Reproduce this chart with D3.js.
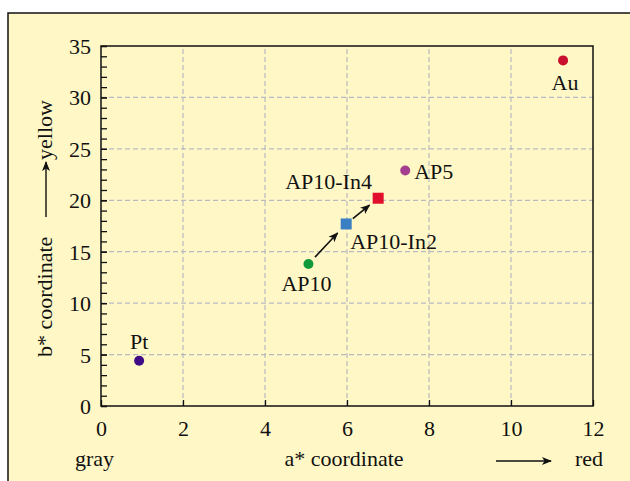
<!DOCTYPE html>
<html>
<head>
<meta charset="utf-8">
<title>a* b* coordinates</title>
<script src="https://cdn.jsdelivr.net/npm/d3@7"></script>
<style>
  body { margin: 0; background: #fff; }
  svg text { font-family: "Liberation Serif", "Times New Roman", serif; fill: #111; }
</style>
</head>
<body>
<div id="chart"></div>
<script>
// sample names, a* and b* values, colours and marker shapes
var names  = ["Pt", "AP10", "AP10-In2", "AP10-In4", "AP5", "Au"];
var aStar  = [0.93, 5.06, 5.98, 6.76, 7.42, 11.27];
var bStar  = [4.4, 13.8, 17.7, 20.2, 22.9, 33.6];
var colors = ["#3d0c86", "#0f9a3c", "#3a7ec4", "#e0102c", "#a43e8e", "#c8102e"];
var shapes = ["circle", "circle", "square", "square", "circle", "circle"];
var xTicks = [0, 2, 4, 6, 8, 10, 12];
var yTicks = [0, 5, 10, 15, 20, 25, 30, 35];
var yMinor = d3.range(0, 36, 1);
// arrows: from index -> to index
var arrows = [[1, 2], [2, 3]];

var W = 630, H = 481;
var svg = d3.select("#chart").append("svg").attr("width", W).attr("height", H);

// panel background + border
svg.append("rect").attr("x", 8).attr("y", 13).attr("width", 640).attr("height", 500)
   .attr("fill", "#fff8c6").attr("stroke", "#111").attr("stroke-width", 1.5);

var x = d3.scaleLinear().domain([0, 12]).range([101, 593]);
var y = d3.scaleLinear().domain([0, 35]).range([406, 46]);

var defs = svg.append("defs");
defs.append("marker").attr("id", "head").attr("viewBox", "0 0 10 10")
    .attr("refX", 9).attr("refY", 5).attr("markerWidth", 10).attr("markerHeight", 10)
    .attr("markerUnits", "userSpaceOnUse").attr("orient", "auto")
  .append("path").attr("d", "M0,1 L10,5 L0,9 L2.5,5 Z").attr("fill", "#111");

// grid
var grid = svg.append("g").attr("stroke", "#b9b9c2").attr("stroke-width", 1.2).attr("stroke-dasharray", "5,3");
grid.selectAll("line.v").data(xTicks.slice(1, -1)).enter().append("line")
    .attr("x1", d => x(d)).attr("x2", d => x(d)).attr("y1", y(0)).attr("y2", y(35));
grid.selectAll("line.h").data(yTicks.slice(1, -1)).enter().append("line")
    .attr("y1", d => y(d)).attr("y2", d => y(d)).attr("x1", x(0)).attr("x2", x(12));

// axes (ticks point inward)
var xAxis = svg.append("g").attr("transform", "translate(0," + y(0) + ")")
    .call(d3.axisBottom(x).tickValues(xTicks).tickSizeInner(-6).tickSizeOuter(0).tickPadding(10));
var yAxisMinor = svg.append("g").attr("transform", "translate(" + x(0) + ",0)")
    .call(d3.axisLeft(y).tickValues(yMinor).tickSizeInner(-6).tickSizeOuter(0).tickFormat(""));
var yAxis = svg.append("g").attr("transform", "translate(" + x(0) + ",0)")
    .call(d3.axisLeft(y).tickValues(yTicks).tickSizeInner(-6).tickSizeOuter(0).tickPadding(10));

[xAxis, yAxis, yAxisMinor].forEach(function (g) {
  g.select(".domain").remove();
  g.selectAll(".tick line").attr("stroke", "#111").attr("stroke-width", 1.3);
  g.selectAll(".tick text").attr("font-size", 22).attr("fill", "#111")
   .attr("font-family", "Liberation Serif, serif");
});
xAxis.selectAll(".tick text").attr("dy", "0.9em");
yAxis.selectAll(".tick text").attr("dy", "0.34em");

// plot frame
svg.append("rect").attr("x", x(0)).attr("y", y(35))
   .attr("width", x(12) - x(0)).attr("height", y(0) - y(35))
   .attr("fill", "none").attr("stroke", "#111").attr("stroke-width", 1.5);

// arrows between samples
var gaps = [[9.5, 12.5], [8.5, 11]];
svg.selectAll("line.arrow").data(arrows).enter().append("line")
   .each(function (d, i) {
     var x1 = x(aStar[d[0]]), y1 = y(bStar[d[0]]), x2 = x(aStar[d[1]]), y2 = y(bStar[d[1]]);
     var len = Math.hypot(x2 - x1, y2 - y1), ux = (x2 - x1) / len, uy = (y2 - y1) / len;
     d3.select(this)
       .attr("x1", x1 + ux * gaps[i][0]).attr("y1", y1 + uy * gaps[i][0])
       .attr("x2", x2 - ux * gaps[i][1]).attr("y2", y2 - uy * gaps[i][1]);
   })
   .attr("stroke", "#111").attr("stroke-width", 1.6).attr("marker-end", "url(#head)");

// markers
var pts = names.map((n, i) => ({ name: n, a: aStar[i], b: bStar[i], c: colors[i], s: shapes[i] }));
svg.selectAll("circle.pt").data(pts.filter(d => d.s == "circle")).enter().append("circle")
   .attr("cx", d => x(d.a)).attr("cy", d => y(d.b)).attr("r", 5).attr("fill", d => d.c);
svg.selectAll("rect.pt").data(pts.filter(d => d.s == "square")).enter().append("rect")
   .attr("x", d => x(d.a) - 5.5).attr("y", d => y(d.b) - 5.5)
   .attr("width", 11).attr("height", 11).attr("fill", d => d.c);

// point labels (offset from the marker)
var labelOff = { "Pt": [0, -12, "middle"], "AP10": [-27, 27, "start"], "AP10-In2": [4, 25, "start"],
                 "AP10-In4": [-93, -9, "start"], "AP5": [9, 9, "start"], "Au": [2, 30, "middle"] };
svg.selectAll("text.lbl").data(pts).enter().append("text")
   .attr("x", d => x(d.a) + labelOff[d.name][0]).attr("y", d => y(d.b) + labelOff[d.name][1])
   .attr("text-anchor", d => labelOff[d.name][2]).attr("font-size", 22).text(d => d.name);

// x axis caption
svg.append("text").attr("x", 75).attr("y", 466).attr("font-size", 22).text("gray");
svg.append("text").attr("x", 344).attr("y", 466).attr("font-size", 22).attr("text-anchor", "middle").text("a* coordinate");
svg.append("line").attr("x1", 496).attr("x2", 551).attr("y1", 461).attr("y2", 461)
   .attr("stroke", "#111").attr("stroke-width", 1.4).attr("marker-end", "url(#head)");
svg.append("text").attr("x", 603).attr("y", 466).attr("font-size", 22).attr("text-anchor", "end").text("red");

// y axis caption (rotated)
var yl = svg.append("g").attr("transform", "translate(52,0) rotate(-90)");
yl.append("text").attr("x", -357).attr("y", 0).attr("font-size", 22).text("b* coordinate");
yl.append("line").attr("x1", -217).attr("x2", -162).attr("y1", -6).attr("y2", -6)
  .attr("stroke", "#111").attr("stroke-width", 1.4).attr("marker-end", "url(#head)");
yl.append("text").attr("x", -100).attr("y", 0).attr("font-size", 22).attr("text-anchor", "end").text("yellow");
</script>
</body>
</html>
